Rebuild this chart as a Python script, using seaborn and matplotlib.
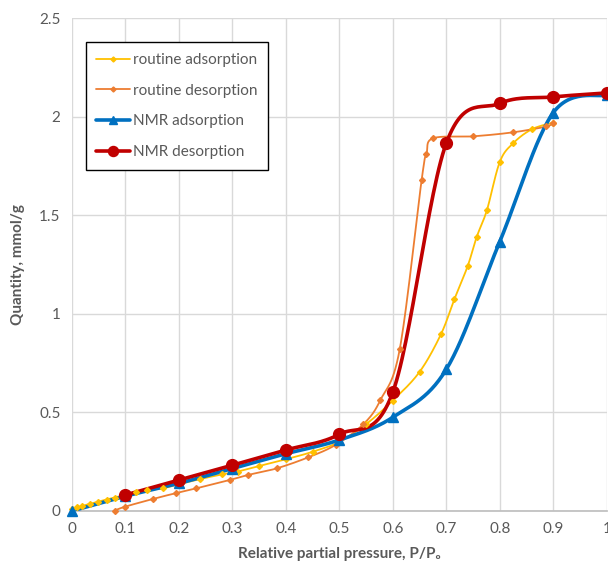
import numpy as np
import pandas as pd
import matplotlib
matplotlib.use("Agg")
import matplotlib.pyplot as plt
import seaborn as sns
from matplotlib.lines import Line2D

# ---- data ----
routine_ads_x = [0.0, 0.01, 0.02, 0.035, 0.05, 0.065, 0.08, 0.1, 0.12, 0.14, 0.17, 0.2, 0.24, 0.28,
                 0.31, 0.35, 0.4, 0.45, 0.5, 0.55, 0.6, 0.65, 0.69, 0.715, 0.74, 0.757, 0.776,
                 0.8, 0.825, 0.86, 0.9]
routine_ads_y = [0.01, 0.018, 0.026, 0.037, 0.048, 0.058, 0.068, 0.082, 0.094, 0.104, 0.115, 0.135,
                 0.162, 0.185, 0.2, 0.228, 0.262, 0.3, 0.35, 0.44, 0.56, 0.705, 0.896, 1.073,
                 1.242, 1.391, 1.526, 1.77, 1.865, 1.936, 1.97]
routine_des_x = [0.08, 0.1, 0.152, 0.194, 0.233, 0.295, 0.33, 0.383, 0.442, 0.493, 0.545, 0.577,
                 0.613, 0.654, 0.663, 0.675, 0.75, 0.824, 0.887, 0.9]
routine_des_y = [0.002, 0.022, 0.061, 0.09, 0.115, 0.157, 0.183, 0.216, 0.272, 0.335, 0.44, 0.563,
                 0.82, 1.68, 1.81, 1.89, 1.90, 1.92, 1.95, 1.97]
nmr_ads_x = [0.0, 0.1, 0.2, 0.3, 0.4, 0.5, 0.6, 0.7, 0.8, 0.9, 1.0]
nmr_ads_y = [0.0, 0.075, 0.14, 0.215, 0.29, 0.36, 0.475, 0.718, 1.366, 2.02, 2.11]
nmr_des_x = [0.1, 0.2, 0.3, 0.4, 0.5, 0.6, 0.7, 0.8, 0.9, 1.0]
nmr_des_y = [0.081, 0.157, 0.232, 0.309, 0.389, 0.602, 1.865, 2.067, 2.1, 2.12]

labels = ["routine adsorption", "routine desorption", "NMR adsorption", "NMR desorption"]
colors = ["#FFC000", "#ED7D31", "#0070C0", "#C00000"]


def smooth(x, y, n=30):
    """Excel-style smoothed line (uniform Catmull-Rom / Bezier)."""
    P = np.column_stack([x, y]).astype(float)
    P = np.vstack([P[0], P, P[-1]])
    out = []
    t = np.linspace(0, 1, n)[:, None]
    for i in range(1, len(P) - 2):
        p0, p1, p2, p3 = P[i - 1], P[i], P[i + 1], P[i + 2]
        c1 = p1 + (p2 - p0) / 6.0
        c2 = p2 - (p3 - p1) / 6.0
        seg = ((1 - t) ** 3) * p1 + 3 * ((1 - t) ** 2) * t * c1 + 3 * (1 - t) * t ** 2 * c2 + t ** 3 * p2
        out.append(seg if i == 1 else seg[1:])
    S = np.vstack(out)
    return S[:, 0], S[:, 1]


sns.set_theme(style="white")
plt.rcParams["font.family"] = ["Lato", "DejaVu Sans"]
txt = "#595959"

fig = plt.figure(figsize=(6.08, 5.74), dpi=100)
ax = fig.add_axes([0.118, 0.1098, 0.880, 0.8588])

series = [
    (routine_ads_x, routine_ads_y, 1.3, "D", 3.0),
    (routine_des_x, routine_des_y, 1.3, "D", 3.0),
    (nmr_ads_x, nmr_ads_y, 2.6, "^", 7.5),
    (nmr_des_x, nmr_des_y, 2.6, "o", 8.5),
]

handles = []
for (xs, ys, lw, mk, ms), lab, col in zip(series, labels, colors):
    sx, sy = smooth(xs, ys)
    df = pd.DataFrame({"x": sx, "y": sy})
    sns.lineplot(data=df, x="x", y="y", sort=False, color=col, lw=lw, ax=ax, zorder=3)
    ax.plot(xs, ys, linestyle="none", marker=mk, ms=ms, color=col, zorder=4, clip_on=False)
    handles.append(Line2D([0], [0], color=col, lw=lw, marker=mk, ms=ms * 0.85))

ax.set_xlim(0, 1)
ax.set_ylim(0, 2.5)
ax.set_xticks(np.arange(0, 1.01, 0.1))
ax.set_xticklabels(["0", "0.1", "0.2", "0.3", "0.4", "0.5", "0.6", "0.7", "0.8", "0.9", "1"])
ax.set_yticks([0, 0.5, 1, 1.5, 2, 2.5])
ax.set_yticklabels(["0", "0.5", "1", "1.5", "2", "2.5"])
ax.set_xticks(np.arange(0.05, 1.0, 0.1), minor=True)
ax.grid(True, which="major", color="#D9D9D9", lw=1.0)
ax.tick_params(axis="both", which="major", length=0, labelsize=11, labelcolor=txt, pad=8)
ax.tick_params(axis="x", which="minor", direction="in", length=4, color="#BFBFBF", width=1)
for s in ["top", "right", "left"]:
    ax.spines[s].set_visible(False)
ax.spines["bottom"].set_color("#BFBFBF")
ax.set_axisbelow(True)

ax.set_xlabel("Relative partial pressure, P/P\u2080", fontsize=11, fontweight="bold", color=txt, labelpad=8)
ax.set_ylabel("Quantity, mmol/g", fontsize=11, fontweight="bold", color=txt, labelpad=10)

leg = ax.legend(handles, labels, loc="upper left", bbox_to_anchor=(0.026, 0.951), fontsize=11,
                frameon=True, fancybox=False, edgecolor="black", framealpha=1, labelspacing=1.1,
                handlelength=2.2, handletextpad=0.2, borderpad=0.7, borderaxespad=0)
leg.get_frame().set_linewidth(1.0)
for t in leg.get_texts():
    t.set_color(txt)

fig.savefig("out.png", dpi=100)
